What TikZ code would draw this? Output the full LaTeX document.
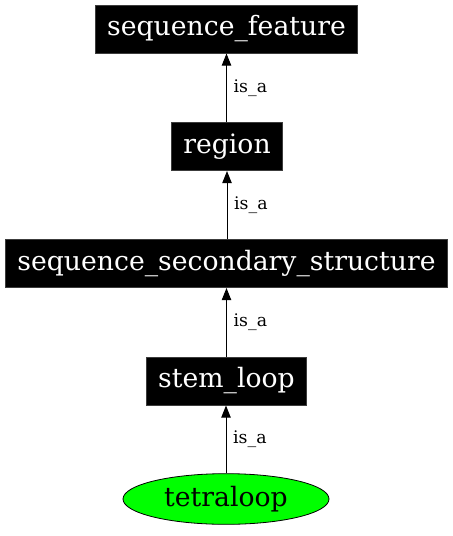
\documentclass[tikz,border=0pt]{standalone}
\usepackage{fontspec}
\setmainfont{DejaVu Serif}
\usetikzlibrary{shapes.geometric,arrows.meta}

\tikzset{every picture/.style={line width=0.75pt}}
\tikzset{
  termbox/.style={fill=black, draw={rgb,255:red,60;green,60;blue,60}, text=white, font=\fontsize{20}{24}\selectfont, inner xsep=9pt, inner ysep=0pt, minimum height=36pt},
  leafterm/.style={ellipse, fill={rgb,255:red,0;green,255;blue,0}, draw=black, line width=0.6pt, font=\fontsize{20}{24}\selectfont, inner sep=0pt, minimum width=154.5pt, minimum height=38pt},
  isa/.style={draw=black, -{Triangle[length=9pt,width=7pt]}},
  isalabel/.style={anchor=west, inner sep=0pt, xshift=5pt, font=\fontsize{13}{15}\selectfont}
}

\begin{document}
\begin{tikzpicture}[x=0.75pt,y=0.75pt,yscale=-1,xscale=1]
\useasboundingbox (0,0) rectangle (453,536);

% Terms
\node [termbox] (sf) at (226.5,29) {sequence\_feature};
\node [termbox] (rg) at (227,146.5) {region};
\node [termbox] (sss) at (226.5,263.5) {sequence\_secondary\_structure};
\node [termbox] (sl) at (226.5,381) {stem\_loop};
\node [leafterm] (tl) at (226,499) {tetraloop};

% is_a edges
\draw [isa] (rg.north -| sf) -- (sf.south) node [midway,isalabel] {is\_a};
\draw [isa] (sss.north -| rg) -- (rg.south) node [midway,isalabel] {is\_a};
\draw [isa] (sl.north -| sss) -- (sss.south -| sl) node [midway,isalabel] {is\_a};
\draw [isa] (tl.north) -- (sl.south -| tl) node [midway,isalabel] {is\_a};

\end{tikzpicture}
\end{document}
